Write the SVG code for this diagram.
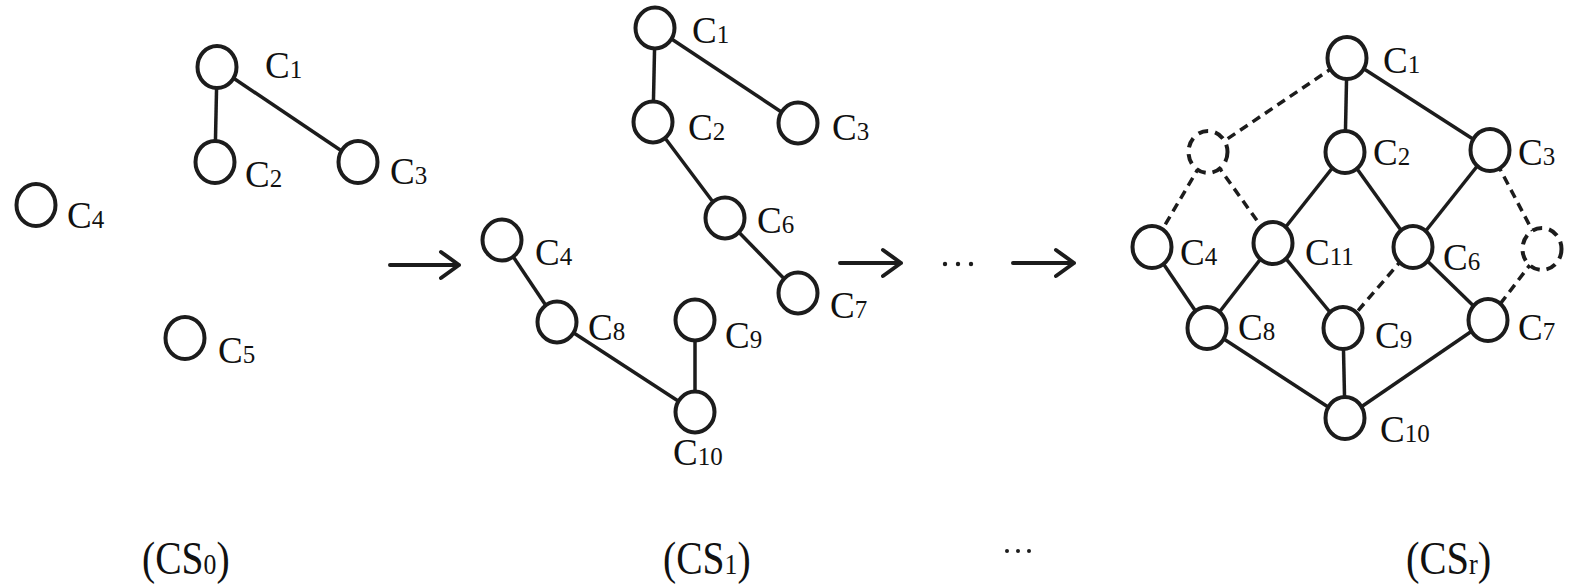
<svg xmlns="http://www.w3.org/2000/svg" width="1575" height="584" viewBox="0 0 1575 584">
<style>
.n{fill:#fff;stroke:#1c1c1c;stroke-width:4}
.nd{fill:#fff;stroke:#1c1c1c;stroke-width:4;stroke-dasharray:10 7}
.e{stroke:#1c1c1c;stroke-width:3.5;fill:none}
.ed{stroke:#1c1c1c;stroke-width:3.5;fill:none;stroke-dasharray:9 6}
.a{stroke:#1c1c1c;stroke-width:4;fill:none;stroke-linecap:round;stroke-linejoin:round}
text{font-family:"Liberation Serif","Times New Roman",serif;fill:#111}
.l{font-size:37px}
.s{font-size:25px}
.b{font-size:46px}
.bs{font-size:30px}
</style>
<rect width="1575" height="584" fill="#fff"/>
<g id="connectors">
<line class="e" x1="217" y1="67" x2="215" y2="162"/>
<line class="e" x1="217" y1="67" x2="358" y2="162"/>
<line class="e" x1="655" y1="28" x2="653" y2="122"/>
<line class="e" x1="655" y1="28" x2="798" y2="123"/>
<line class="e" x1="653" y1="122" x2="725" y2="218"/>
<line class="e" x1="725" y1="218" x2="798" y2="293"/>
<line class="e" x1="502" y1="240" x2="557" y2="322"/>
<line class="e" x1="557" y1="322" x2="695" y2="412"/>
<line class="e" x1="695" y1="320" x2="695" y2="412"/>
<line class="e" x1="1347" y1="58" x2="1345" y2="152"/>
<line class="e" x1="1347" y1="58" x2="1490" y2="150"/>
<line class="e" x1="1345" y1="152" x2="1273" y2="243"/>
<line class="e" x1="1345" y1="152" x2="1413" y2="247"/>
<line class="e" x1="1490" y1="150" x2="1413" y2="247"/>
<line class="e" x1="1152" y1="247" x2="1207" y2="328"/>
<line class="e" x1="1273" y1="243" x2="1207" y2="328"/>
<line class="e" x1="1273" y1="243" x2="1343" y2="328"/>
<line class="e" x1="1413" y1="247" x2="1488" y2="320"/>
<line class="e" x1="1207" y1="328" x2="1345" y2="418"/>
<line class="e" x1="1343" y1="328" x2="1345" y2="418"/>
<line class="e" x1="1488" y1="320" x2="1345" y2="418"/>
<line class="ed" x1="1347" y1="58" x2="1208" y2="152"/>
<line class="ed" x1="1208" y1="152" x2="1152" y2="247"/>
<line class="ed" x1="1208" y1="152" x2="1273" y2="243"/>
<line class="ed" x1="1413" y1="247" x2="1343" y2="328"/>
<line class="ed" x1="1490" y1="150" x2="1542" y2="249"/>
<line class="ed" x1="1542" y1="249" x2="1488" y2="320"/>
<path class="a" d="M390 265H459M441 252L459 265L441 278"/>
<path class="a" d="M840 263H901M883 250L901 263L883 276"/>
<path class="a" d="M1013 263H1074M1056 250L1074 263L1056 276"/>
</g>
<g id="cs0">
<g id="cs0-c1"><ellipse class="n" cx="217" cy="67" rx="19.5" ry="21"/><text class="l" x="265" y="78">C<tspan class="s">1</tspan></text></g>
<g id="cs0-c2"><ellipse class="n" cx="215" cy="162" rx="19.5" ry="21"/><text class="l" x="245" y="187">C<tspan class="s">2</tspan></text></g>
<g id="cs0-c3"><ellipse class="n" cx="358" cy="162" rx="19.5" ry="21"/><text class="l" x="390" y="184">C<tspan class="s">3</tspan></text></g>
<g id="cs0-c4"><ellipse class="n" cx="36" cy="205" rx="19.5" ry="21"/><text class="l" x="67" y="228">C<tspan class="s">4</tspan></text></g>
<g id="cs0-c5"><ellipse class="n" cx="185" cy="338" rx="19.5" ry="21"/><text class="l" x="218" y="363">C<tspan class="s">5</tspan></text></g>
</g>
<g id="cs1">
<g id="cs1-c1"><ellipse class="n" cx="655" cy="28" rx="19.5" ry="20.5"/><text class="l" x="692" y="43">C<tspan class="s">1</tspan></text></g>
<g id="cs1-c2"><ellipse class="n" cx="653" cy="122" rx="19.5" ry="20.5"/><text class="l" x="688" y="140">C<tspan class="s">2</tspan></text></g>
<g id="cs1-c3"><ellipse class="n" cx="798" cy="123" rx="19.5" ry="20.5"/><text class="l" x="832" y="140">C<tspan class="s">3</tspan></text></g>
<g id="cs1-c6"><ellipse class="n" cx="725" cy="218" rx="19.5" ry="20.5"/><text class="l" x="757" y="233">C<tspan class="s">6</tspan></text></g>
<g id="cs1-c7"><ellipse class="n" cx="798" cy="293" rx="19.5" ry="20.5"/><text class="l" x="830" y="318">C<tspan class="s">7</tspan></text></g>
<g id="cs1-c4"><ellipse class="n" cx="502" cy="240" rx="19.5" ry="20.5"/><text class="l" x="535" y="265">C<tspan class="s">4</tspan></text></g>
<g id="cs1-c8"><ellipse class="n" cx="557" cy="322" rx="19.5" ry="20.5"/><text class="l" x="588" y="340">C<tspan class="s">8</tspan></text></g>
<g id="cs1-c9"><ellipse class="n" cx="695" cy="320" rx="19.5" ry="20.5"/><text class="l" x="725" y="348">C<tspan class="s">9</tspan></text></g>
<g id="cs1-c10"><ellipse class="n" cx="695" cy="412" rx="19.5" ry="20.5"/><text class="l" x="673" y="465">C<tspan class="s">10</tspan></text></g>
</g>
<g id="csr">
<g id="csr-c1"><ellipse class="n" cx="1347" cy="58" rx="19.5" ry="21"/><text class="l" x="1383" y="73">C<tspan class="s">1</tspan></text></g>
<g id="csr-c2"><ellipse class="n" cx="1345" cy="152" rx="19.5" ry="21"/><text class="l" x="1373" y="165">C<tspan class="s">2</tspan></text></g>
<g id="csr-c3"><ellipse class="n" cx="1490" cy="150" rx="19.5" ry="21"/><text class="l" x="1518" y="165">C<tspan class="s">3</tspan></text></g>
<g id="csr-dl"><ellipse class="nd" cx="1208" cy="152" rx="19.5" ry="21"/></g>
<g id="csr-c4"><ellipse class="n" cx="1152" cy="247" rx="19.5" ry="21"/><text class="l" x="1180" y="265">C<tspan class="s">4</tspan></text></g>
<g id="csr-c11"><ellipse class="n" cx="1273" cy="243" rx="19.5" ry="21"/><text class="l" x="1305" y="265">C<tspan class="s">11</tspan></text></g>
<g id="csr-c6"><ellipse class="n" cx="1413" cy="247" rx="19.5" ry="21"/><text class="l" x="1443" y="270">C<tspan class="s">6</tspan></text></g>
<g id="csr-dr"><ellipse class="nd" cx="1542" cy="249" rx="19.5" ry="21"/></g>
<g id="csr-c8"><ellipse class="n" cx="1207" cy="328" rx="19.5" ry="21"/><text class="l" x="1238" y="340">C<tspan class="s">8</tspan></text></g>
<g id="csr-c9"><ellipse class="n" cx="1343" cy="328" rx="19.5" ry="21"/><text class="l" x="1375" y="348">C<tspan class="s">9</tspan></text></g>
<g id="csr-c7"><ellipse class="n" cx="1488" cy="320" rx="19.5" ry="21"/><text class="l" x="1518" y="340">C<tspan class="s">7</tspan></text></g>
<g id="csr-c10"><ellipse class="n" cx="1345" cy="418" rx="19.5" ry="21"/><text class="l" x="1380" y="442">C<tspan class="s">10</tspan></text></g>
</g>
<g id="dots1"><circle cx="945" cy="264" r="2.2" fill="#1c1c1c"/><circle cx="958" cy="264" r="2.2" fill="#1c1c1c"/><circle cx="971" cy="264" r="2.2" fill="#1c1c1c"/></g>
<g id="captions">
<text class="b" transform="translate(142 574) scale(0.86 1)">(CS<tspan class="bs">0</tspan>)</text>
<text class="b" transform="translate(663 574) scale(0.86 1)">(CS<tspan class="bs">1</tspan>)</text>
<text class="b" transform="translate(1406 574) scale(0.88 1)">(CS<tspan class="bs">r</tspan>)</text>
<g id="dots2"><circle cx="1007" cy="551" r="2" fill="#1c1c1c"/><circle cx="1018" cy="551" r="2" fill="#1c1c1c"/><circle cx="1029" cy="551" r="2" fill="#1c1c1c"/></g>
</g>
</svg>
